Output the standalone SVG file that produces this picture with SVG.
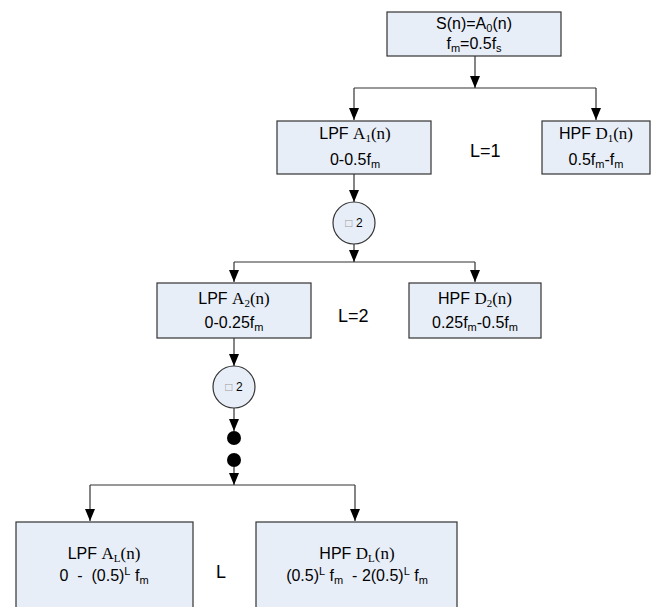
<svg xmlns="http://www.w3.org/2000/svg" width="652" height="607" viewBox="0 0 652 607">
<style>
.box{fill:#E8EEF8;stroke:#333;stroke-width:1.2}
.t{font-family:"Liberation Sans",Arial,sans-serif;font-size:16px;fill:#000;text-anchor:middle}
.s{font-family:"Liberation Serif","Times New Roman",serif;font-size:17px}
.lbl{font-family:"Liberation Sans",Arial,sans-serif;font-size:18px;fill:#000}
.c{stroke:#333;stroke-width:1.2;fill:none}
.ct{font-family:"Liberation Sans",Arial,sans-serif;font-size:12px;fill:#000;text-anchor:middle}
</style>
<defs>
<marker id="ah" markerUnits="userSpaceOnUse" markerWidth="12" markerHeight="10" refX="12" refY="5" orient="auto" viewBox="0 0 12 10">
<path d="M0,0 L12,5 L0,10 z" fill="#000"/>
</marker>
</defs>
<g id="connectors">
<line class="c" x1="475" y1="56" x2="475" y2="88" marker-end="url(#ah)"/>
<polyline class="c" points="354,88 596,88"/>
<line class="c" x1="354" y1="88" x2="354" y2="120" marker-end="url(#ah)"/>
<line class="c" x1="596" y1="88" x2="596" y2="120" marker-end="url(#ah)"/>
<line class="c" x1="354" y1="174" x2="354" y2="202" marker-end="url(#ah)"/>
<line class="c" x1="354" y1="244" x2="354" y2="262" marker-end="url(#ah)"/>
<polyline class="c" points="234,262 475,262"/>
<line class="c" x1="234" y1="262" x2="234" y2="282" marker-end="url(#ah)"/>
<line class="c" x1="475" y1="262" x2="475" y2="282" marker-end="url(#ah)"/>
<line class="c" x1="234" y1="338" x2="234" y2="366" marker-end="url(#ah)"/>
<line class="c" x1="234" y1="408" x2="234" y2="431" marker-end="url(#ah)"/>
<line class="c" x1="234" y1="467" x2="234" y2="485" marker-end="url(#ah)"/>
<polyline class="c" points="90,485 355,485"/>
<line class="c" x1="90" y1="485" x2="90" y2="521" marker-end="url(#ah)"/>
<line class="c" x1="355" y1="485" x2="355" y2="521" marker-end="url(#ah)"/>
</g>
<g id="top">
<rect class="box" x="387" y="12" width="174" height="44"/>
<text class="t" x="474" y="29" font-size="17">S(n)=A<tspan font-size="11" dy="3">0</tspan><tspan dy="-3">(n)</tspan></text>
<text class="t" x="474" y="49" font-size="17">f<tspan font-size="11" dy="3">m</tspan><tspan dy="-3">=0.5f</tspan><tspan font-size="11" dy="3">s</tspan></text>
</g>
<g id="lpf1">
<rect class="box" x="277" y="121" width="154" height="53"/>
<text class="t" x="355" y="139">LPF  <tspan class="s">A<tspan font-size="11" dy="3">1</tspan><tspan dy="-3">(n)</tspan></tspan></text>
<text class="t" x="355" y="165">0-0.5f<tspan font-size="11" dy="3">m</tspan></text>
</g>
<g id="hpf1">
<rect class="box" x="542" y="121" width="108" height="53"/>
<text class="t" x="596" y="139">HPF  <tspan class="s">D<tspan font-size="11" dy="3">1</tspan><tspan dy="-3">(n)</tspan></tspan></text>
<text class="t" x="596" y="165">0.5f<tspan font-size="11" dy="3">m</tspan><tspan dy="-3">-f</tspan><tspan font-size="11" dy="3">m</tspan></text>
</g>
<g id="label1"><text class="lbl" x="470" y="157">L=1</text></g>
<g id="down1">
<circle class="box" cx="354" cy="223" r="21"/>
<text class="ct" x="354" y="227" xml:space="preserve"><tspan fill="#999">□</tspan> 2</text>
</g>
<g id="lpf2">
<rect class="box" x="157" y="283" width="154" height="55"/>
<text class="t" x="234" y="304">LPF  <tspan class="s">A<tspan font-size="11" dy="3">2</tspan><tspan dy="-3">(n)</tspan></tspan></text>
<text class="t" x="234" y="328">0-0.25f<tspan font-size="11" dy="3">m</tspan></text>
</g>
<g id="hpf2">
<rect class="box" x="409" y="283" width="132" height="55"/>
<text class="t" x="475" y="304">HPF  <tspan class="s">D<tspan font-size="11" dy="3">2</tspan><tspan dy="-3">(n)</tspan></tspan></text>
<text class="t" x="475" y="328">0.25f<tspan font-size="11" dy="3">m</tspan><tspan dy="-3">-0.5f</tspan><tspan font-size="11" dy="3">m</tspan></text>
</g>
<g id="label2"><text class="lbl" x="338" y="322">L=2</text></g>
<g id="down2">
<circle class="box" cx="234" cy="387" r="21"/>
<text class="ct" x="234" y="391" xml:space="preserve"><tspan fill="#999">□</tspan> 2</text>
</g>
<g id="dots">
<circle cx="234" cy="438" r="7" fill="#000"/>
<circle cx="234" cy="460" r="7" fill="#000"/>
</g>
<g id="lpfL">
<rect class="box" x="16" y="522" width="177" height="100"/>
<text class="t" x="104" y="559">LPF  <tspan class="s">A<tspan font-size="11" dy="3">L</tspan><tspan dy="-3">(n)</tspan></tspan></text>
<text class="t" x="104" y="581" xml:space="preserve">0  -  (0.5)<tspan font-size="11" dy="-6">L</tspan><tspan dy="6"> f</tspan><tspan font-size="11" dy="3">m</tspan></text>
</g>
<g id="labelL"><text class="lbl" x="216" y="578">L</text></g>
<g id="hpfL">
<rect class="box" x="256" y="522" width="201" height="100"/>
<text class="t" x="357" y="559">HPF  <tspan class="s">D<tspan font-size="11" dy="3">L</tspan><tspan dy="-3">(n)</tspan></tspan></text>
<text class="t" x="357" y="581" xml:space="preserve">(0.5)<tspan font-size="11" dy="-6">L</tspan><tspan dy="6"> f</tspan><tspan font-size="11" dy="3">m</tspan><tspan dy="-3">  - 2(0.5)</tspan><tspan font-size="11" dy="-6">L</tspan><tspan dy="6"> f</tspan><tspan font-size="11" dy="3">m</tspan></text>
</g>
</svg>
